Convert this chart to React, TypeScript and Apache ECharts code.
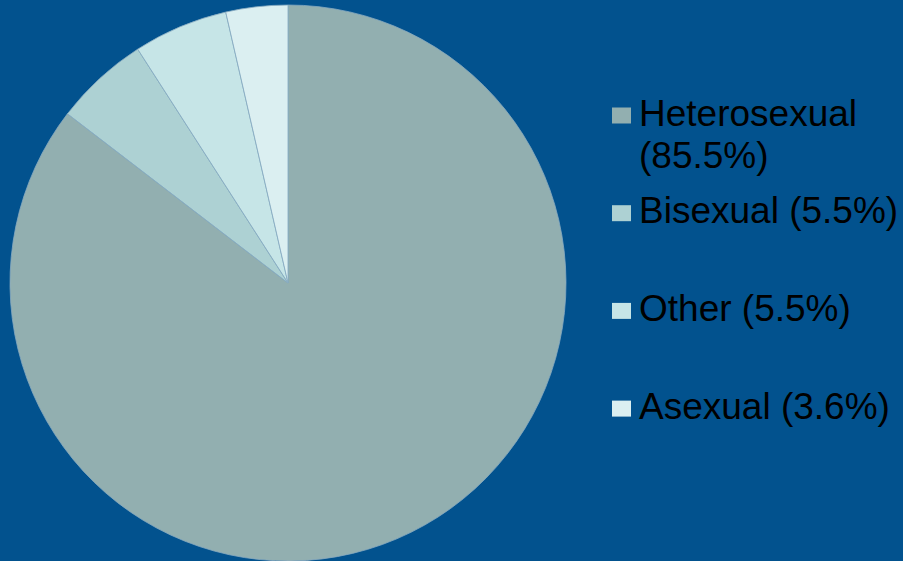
import React, { useEffect, useRef } from "react";
import * as echarts from "echarts";

const categories = ["Heterosexual", "Bisexual", "Other", "Asexual"];
const percents = [85.5, 5.5, 5.5, 3.6];
const colors = ["#92afb0", "#add1d3", "#c6e5e7", "#dbeff1"];

export default function App() {
  const ref = useRef<HTMLDivElement>(null);

  useEffect(() => {
    if (!ref.current) return;
    const chart = echarts.init(ref.current, null, { renderer: "svg" });

    const legendX = 612;
    const textX = 639;
    const firstTop = 92;
    const step = 97.7;

    const legendGraphics: any[] = [];
    categories.forEach((name, i) => {
      const top = firstTop + i * step;
      legendGraphics.push({
        type: "rect",
        shape: { x: legendX, y: top + 15.5, width: 19, height: 16 },
        style: { fill: colors[i] },
        silent: true,
      });
      legendGraphics.push({
        type: "text",
        x: textX,
        y: top,
        style: {
          text: `${name} (${percents[i]}%)`,
          fill: "#000000",
          font: '37px "Liberation Sans", Arial, sans-serif',
          width: 262,
          overflow: "break",
          lineHeight: 42,
          align: "left",
          verticalAlign: "top",
        },
        silent: true,
      });
    });

    chart.setOption({
      animation: false,
      backgroundColor: "#02528e",
      series: [
        {
          type: "pie",
          center: [288, 283],
          radius: 278,
          startAngle: 90,
          clockwise: true,
          label: { show: false },
          labelLine: { show: false },
          emphasis: { disabled: true },
          itemStyle: { borderColor: "#86aac0", borderWidth: 0.8 },
          data: categories.map((name, i) => ({
            name,
            value: percents[i],
            itemStyle: { color: colors[i] },
          })),
        },
      ],
      graphic: legendGraphics,
    });

    return () => chart.dispose();
  }, []);

  return (
    <div
      ref={ref}
      style={{ position: "fixed", left: 0, top: 0, width: 903, height: 561 }}
    />
  );
}
